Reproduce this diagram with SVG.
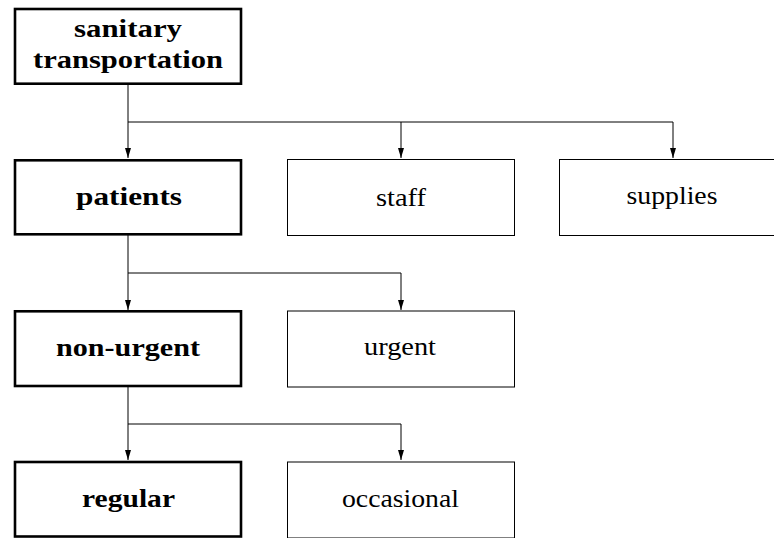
<svg xmlns="http://www.w3.org/2000/svg" width="774" height="538" viewBox="0 0 774 538">
<defs>
<marker id="ah" markerUnits="userSpaceOnUse" markerWidth="10" markerHeight="10" viewBox="0 0 10 10" refX="10" refY="5" orient="auto">
<path d="M0,2 L10,5 L0,8 Z" fill="#000"/>
</marker>
<style>
.thick{fill:#fff;stroke:#000;stroke-width:2.6}
.thin{fill:#fff;stroke:#000;stroke-width:1}
.b{font-family:"Liberation Serif","DejaVu Serif",serif;font-weight:bold;font-size:25px;fill:#000;text-anchor:middle}
.r{font-family:"Liberation Serif","DejaVu Serif",serif;font-size:26px;fill:#000;text-anchor:middle}
.c{fill:none;stroke:#000;stroke-width:1}
</style>
</defs>
<g id="connectors">
<path class="c" d="M128,84 V158" marker-end="url(#ah)"/>
<path class="c" d="M128,122 H673 V158" marker-end="url(#ah)"/>
<path class="c" d="M401,122 V158" marker-end="url(#ah)"/>
<path class="c" d="M128,235 V310" marker-end="url(#ah)"/>
<path class="c" d="M128,273 H401 V310" marker-end="url(#ah)"/>
<path class="c" d="M128,387 V460" marker-end="url(#ah)"/>
<path class="c" d="M128,424 H401 V460" marker-end="url(#ah)"/>
</g>
<g id="sanitary">
<rect class="thick" x="15" y="9" width="226" height="74.7"/>
<text class="b" x="128" y="37" textLength="108" lengthAdjust="spacingAndGlyphs">sanitary</text>
<text class="b" x="128" y="68" textLength="190" lengthAdjust="spacingAndGlyphs">transportation</text>
</g>
<g id="patients">
<rect class="thick" x="15" y="160.3" width="226" height="74"/>
<text class="b" x="129" y="204.5" textLength="106" lengthAdjust="spacingAndGlyphs">patients</text>
</g>
<g id="staff">
<rect class="thin" x="287.5" y="159.5" width="227" height="76"/>
<text class="r" x="401" y="206" textLength="50" lengthAdjust="spacingAndGlyphs">staff</text>
</g>
<g id="supplies">
<rect class="thin" x="559.5" y="159.5" width="227" height="76"/>
<text class="r" x="672" y="204" textLength="91" lengthAdjust="spacingAndGlyphs">supplies</text>
</g>
<g id="non-urgent">
<rect class="thick" x="15" y="311.3" width="226" height="74.7"/>
<text class="b" x="128" y="356" textLength="144" lengthAdjust="spacingAndGlyphs">non-urgent</text>
</g>
<g id="urgent">
<rect class="thin" x="287.5" y="311" width="227" height="76"/>
<text class="r" x="400" y="355" textLength="72" lengthAdjust="spacingAndGlyphs">urgent</text>
</g>
<g id="regular">
<rect class="thick" x="15" y="462" width="226" height="74.5"/>
<text class="b" x="128.5" y="507" textLength="93" lengthAdjust="spacingAndGlyphs">regular</text>
</g>
<g id="occasional">
<rect class="thin" x="287.5" y="462" width="227" height="76"/>
<text class="r" x="400.5" y="507" textLength="117" lengthAdjust="spacingAndGlyphs">occasional</text>
</g>
</svg>
